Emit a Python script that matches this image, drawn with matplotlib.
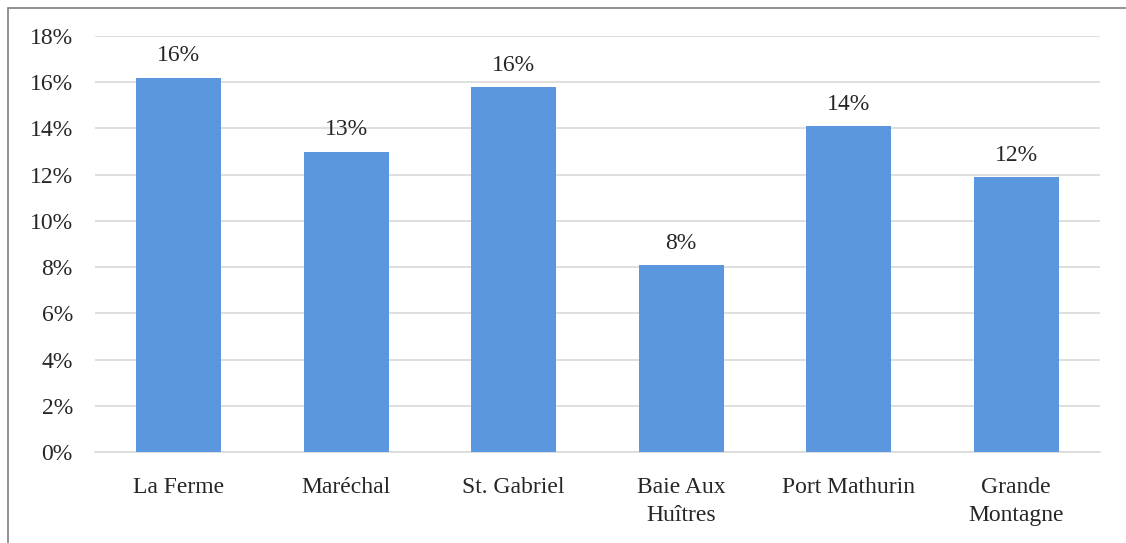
import matplotlib
matplotlib.use("Agg")
import matplotlib.pyplot as plt
from matplotlib.patches import Rectangle

categories = ["La Ferme", "Maréchal", "St. Gabriel", "Baie Aux\nHuîtres", "Port Mathurin", "Grande\nMontagne"]
values = [16.2, 13.0, 15.8, 8.1, 14.1, 11.9]
yticks = [0, 2, 4, 6, 8, 10, 12, 14, 16, 18]

plt.rcParams['font.family'] = ['Liberation Serif', 'DejaVu Serif']

W, H = 1126, 543
FS = 17
fig = plt.figure(figsize=(W / 100, H / 100), dpi=100)
fig.patches.append(Rectangle((8 / W, -0.1), 1.2, 1.1 - 8 / H, transform=fig.transFigure,
                             fill=False, edgecolor='#7f7f7f', linewidth=1.2))
ax = fig.add_axes([95 / W, 1 - 452 / H, (1100 - 95) / W, (452 - 36) / H])

x = list(range(len(categories)))
ax.bar(x, values, width=0.51, color='#5B97DE', zorder=3)
for xi, v in zip(x, values):
    ax.annotate(f"{round(v):d}%", (xi, v), xytext=(0, 8), textcoords='offset points',
                ha='center', va='bottom', fontsize=FS, color='#262626')

ax.set_xlim(-0.5, len(categories) - 0.5)
ax.set_ylim(0, 18)
ax.set_yticks(yticks)
ax.set_yticklabels([f"{t}%" for t in yticks], fontsize=FS, color='#262626')
ax.set_xticks(x)
ax.set_xticklabels(categories, fontsize=FS, color='#262626', linespacing=1.45)
ax.tick_params(axis='both', length=0)
ax.tick_params(axis='y', pad=16)
ax.tick_params(axis='x', pad=18)
ax.grid(axis='y', color='#d9d9d9', linewidth=1.2, zorder=0)
for s in ['top', 'right', 'left']:
    ax.spines[s].set_visible(False)
ax.spines['bottom'].set_color('#d9d9d9')
ax.spines['bottom'].set_linewidth(1.2)

fig.savefig("out.png", dpi=100)
